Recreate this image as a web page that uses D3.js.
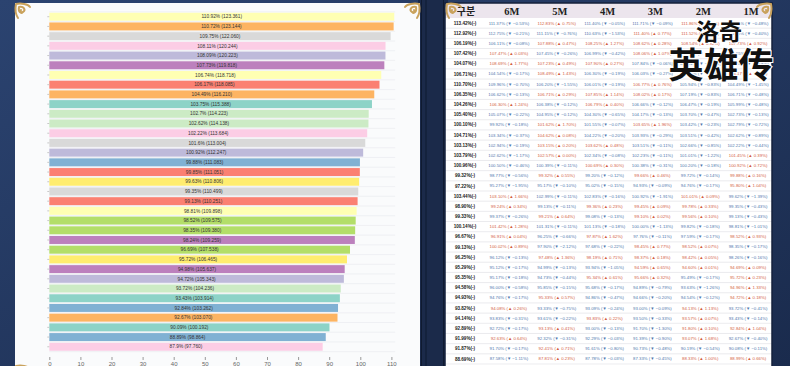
<!DOCTYPE html>
<html>
<head>
<meta charset="utf-8">
<script src="https://cdn.jsdelivr.net/npm/d3@7"></script>
<style>
  html, body { margin: 0; padding: 0; background: #1d2f52; overflow: hidden; }
</style>
</head>
<body>
<div id="chart"></div>
<script>
    // bar chart values, top to bottom
    var barPct = [110.92, 110.72, 109.75, 108.11, 108.09, 107.73, 106.74, 106.17, 104.49, 103.75,
                  102.7, 102.62, 102.22, 101.6, 100.92, 99.88, 99.85, 99.63, 99.35, 99.13,
                  98.81, 98.52, 98.35, 98.24, 96.69, 95.72, 94.98, 94.72, 93.72, 93.43,
                  92.84, 92.67, 90.09, 88.89, 87.9];
    var barScore = [123.361, 123.144, 122.060, 120.244, 120.223, 119.818, 118.718, 118.085, 116.210, 115.388,
                    114.223, 114.138, 113.684, 113.004, 112.247, 111.083, 111.051, 110.806, 110.499, 110.251,
                    109.898, 109.575, 109.380, 109.259, 107.538, 106.465, 105.637, 105.343, 104.236, 103.914,
                    103.262, 103.070, 100.192, 98.864, 97.760];
    // hidden category of every bar (index into the colour scheme)
    var barGroup = [1, 5, 8, 7, 2, 9, 1, 3, 5, 0,
                    10, 10, 7, 8, 2, 4, 3, 11, 8, 3,
                    1, 6, 6, 9, 6, 11, 9, 2, 10, 0,
                    4, 5, 0, 4, 7];
    var xTicks = [0, 10, 20, 30, 40, 50, 60, 70, 80, 90, 100, 110];

    // table values
    var headFirst = "구분";
    var colNames = ["6M", "5M", "4M", "3M", "2M", "1M"];
    var baseRate = [113.42, 112.92, 106.19, 107.42, 104.07, 106.71, 110.70, 106.35, 104.26, 105.40,
                    100.10, 104.71, 103.13, 103.79, 100.96, 99.32, 97.22, 103.44, 98.90, 99.33,
                    100.14, 96.67, 99.13, 96.25, 95.29, 95.35, 94.58, 94.93, 93.82, 94.14,
                    92.89, 91.99, 91.87, 88.69];
    var rowRate = [
        [111.37, 112.83, 111.40, 111.71, 111.86, 111.32],
        [112.75, 111.15, 110.63, 111.40, 111.52, 111.12],
        [106.11, 107.88, 108.25, 108.62, 108.54, 107.73],
        [107.47, 107.45, 106.99, 108.06, 107.82, 107.65],
        [108.69, 107.23, 107.90, 107.84, 106.92, 106.74],
        [104.54, 108.49, 106.30, 106.03, 105.88, 106.17],
        [109.96, 106.20, 106.01, 106.77, 105.94, 104.49],
        [106.62, 106.71, 107.85, 108.02, 107.19, 106.71],
        [106.30, 106.38, 106.79, 106.66, 106.47, 105.99],
        [105.07, 104.95, 104.30, 104.17, 103.70, 102.73],
        [99.92, 101.62, 101.55, 103.65, 103.42, 102.79],
        [103.34, 104.62, 104.22, 103.93, 103.51, 102.62],
        [102.94, 103.15, 103.62, 103.51, 102.66, 102.22],
        [102.62, 102.57, 102.34, 102.23, 101.01, 101.45],
        [100.50, 100.39, 100.69, 100.38, 100.20, 100.92],
        [98.77, 99.32, 99.20, 99.66, 99.72, 99.88],
        [95.27, 95.17, 95.02, 94.93, 94.76, 95.80],
        [103.10, 102.99, 102.83, 100.92, 101.01, 99.62],
        [99.24, 99.13, 99.36, 99.45, 99.78, 99.35],
        [99.37, 99.21, 99.08, 99.10, 99.56, 99.13],
        [101.42, 101.31, 101.13, 100.00, 99.82, 98.81],
        [96.91, 96.25, 97.87, 97.76, 97.59, 98.52],
        [100.02, 97.90, 97.68, 98.45, 98.52, 98.35],
        [96.12, 97.48, 98.19, 98.37, 98.42, 98.26],
        [95.12, 94.99, 93.94, 94.59, 94.60, 94.69],
        [95.17, 94.73, 95.34, 95.66, 95.49, 95.72],
        [96.00, 95.85, 95.68, 94.89, 93.63, 94.96],
        [94.76, 95.33, 94.86, 94.66, 94.54, 94.72],
        [94.08, 93.33, 93.09, 93.00, 94.13, 93.72],
        [93.83, 93.61, 93.83, 93.50, 93.57, 93.43],
        [92.72, 93.13, 93.00, 91.70, 91.80, 92.84],
        [92.63, 92.32, 92.29, 91.39, 93.07, 92.67],
        [91.70, 92.41, 91.61, 90.73, 90.19, 90.08],
        [87.58, 87.81, 87.78, 87.33, 88.33, 88.99]
    ];
    var rowDelta = [
        [-0.53, 0.75, -0.05, -0.09, 0.15, -0.48],
        [-0.21, -0.76, -1.53, 0.77, 0.12, -0.40],
        [-0.08, 0.47, 1.27, 0.28, 0.32, 0.92],
        [0.03, -0.26, -0.42, 1.07, -0.24, -0.17],
        [1.77, 0.49, 0.27, -0.06, -0.92, -0.18],
        [-0.17, 1.43, -0.19, -0.27, -0.15, 0.29],
        [-0.70, -1.55, -0.19, 0.76, -0.83, -1.45],
        [-0.13, 0.29, 1.14, 0.17, -0.83, -0.48],
        [1.24, -0.12, 0.40, -0.12, -0.19, -0.48],
        [-0.22, -0.12, -0.65, -0.13, -0.47, -0.13],
        [-0.18, 1.70, -0.07, 1.96, -0.23, -0.72],
        [-0.37, 0.08, -0.20, -0.29, -0.42, -0.89],
        [-0.19, 0.20, 0.48, -0.11, -0.85, -0.44],
        [-1.17, 0.00, -0.08, -0.11, -1.22, 0.39],
        [-0.46, -0.11, 0.30, -0.31, -0.18, 0.72],
        [-0.56, 0.55, -0.12, 0.46, -0.14, 0.16],
        [-1.95, -0.10, -0.15, -0.09, -0.17, 1.04],
        [1.66, -0.11, -0.16, -1.91, 0.09, -1.39],
        [0.34, -0.11, 0.23, 0.09, 0.33, -0.43],
        [-0.26, 0.64, -0.13, 0.02, 0.10, -0.43],
        [1.28, -0.11, -0.18, -1.13, -0.18, -1.01],
        [0.04, -0.66, 1.62, -0.11, -0.17, 0.93],
        [0.89, -2.12, -0.22, 0.77, 0.07, -0.17],
        [-0.13, 1.36, 0.71, 0.18, 0.05, -0.16],
        [-0.17, -0.13, -1.05, 0.65, 0.01, 0.09],
        [-0.18, -0.44, 0.61, 0.32, -0.17, 0.23],
        [-0.58, -0.15, -0.17, -0.79, -1.26, 1.33],
        [-0.17, 0.57, -0.47, -0.20, -0.12, 0.18],
        [0.26, -0.75, -0.24, -0.09, 1.13, -0.41],
        [-0.31, -0.22, 0.22, -0.33, 0.07, -0.14],
        [-0.17, 0.41, -0.13, -1.30, 0.10, 1.04],
        [0.64, -0.31, -0.03, -0.90, 1.68, -0.40],
        [-0.17, 0.71, -0.80, -0.48, -0.54, -0.11],
        [-1.11, 0.23, -0.03, -0.45, 1.00, 0.66]
    ];
    var titleTop = "洛奇",
        titleBottom = "英雄传";

    var w = 790,
        h = 366,
        gold = "#c9a25c",
        navy = "#1b2a4a";

    var svg = d3.select("#chart")
        .append("svg")
        .attr("width", w)
        .attr("height", h)
        .style("display", "block");

    // backdrop pieces
    var bgGrad = svg.append("defs").append("linearGradient")
        .attr("id", "edge").attr("x1", 0).attr("x2", 1).attr("y1", 0).attr("y2", 1);
    bgGrad.append("stop").attr("offset", "0%").attr("stop-color", "#2b4370");
    bgGrad.append("stop").attr("offset", "100%").attr("stop-color", "#1a2b4d");

    svg.append("rect").attr("width", w).attr("height", h).attr("fill", "url(#edge)");
    svg.append("rect").attr("x", 418).attr("y", 0).attr("width", 30).attr("height", h).attr("fill", navy);
    [421.5, 426, 443.5].forEach(function(lx) {
        svg.append("line").attr("x1", lx).attr("x2", lx).attr("y1", 0).attr("y2", h)
            .attr("stroke", "#0f1a30").attr("stroke-width", 1);
    });

    // ---------- left panel, the bar chart ----------
    svg.append("rect").attr("x", 15).attr("y", 3).attr("width", 405).attr("height", h)
        .attr("fill", "#fafbfc");

    var x = d3.scaleLinear().domain([0, 110]).range([49.3, 391.4]);
    var y = d3.scaleBand().domain(d3.range(barPct.length)).range([11, 352.5]).padding(0.18);
    var color = d3.scaleOrdinal().domain(d3.range(12)).range(d3.schemeSet3);

    var chart = svg.append("g");
    var gap = y.step() * y.paddingInner() / 2;

    // faint row lines between bars
    chart.selectAll("line.row")
        .data(d3.range(barPct.length + 1))
        .enter().append("line")
        .attr("class", "row")
        .attr("x1", x(0)).attr("x2", x(111.2))
        .attr("y1", function(i) { return i < barPct.length ? y(i) - gap : y(i - 1) + y.bandwidth() + gap; })
        .attr("y2", function(i) { return i < barPct.length ? y(i) - gap : y(i - 1) + y.bandwidth() + gap; })
        .attr("stroke", "#eceef1").attr("stroke-width", 0.8);

    chart.selectAll("rect.bar")
        .data(barPct)
        .enter().append("rect")
        .attr("class", "bar")
        .attr("x", x(0))
        .attr("y", function(d, i) { return y(i); })
        .attr("width", function(d) { return x(d) - x(0); })
        .attr("height", y.bandwidth())
        .attr("fill", function(d, i) { return color(barGroup[i]); });

    var fmtScore = d3.format(".3f");
    chart.selectAll("text.lbl")
        .data(barPct)
        .enter().append("text")
        .attr("class", "lbl")
        .attr("x", function(d) { return (x(0) + x(d)) / 2; })
        .attr("y", function(d, i) { return y(i) + y.bandwidth() / 2; })
        .attr("dy", "0.35em")
        .attr("text-anchor", "middle")
        .style("font", "4.8px 'Liberation Sans', Arial, sans-serif")
        .attr("fill", "#333")
        .text(function(d, i) { return d + "% (" + fmtScore(barScore[i]) + ")"; });

    // little ticks on the category side
    var yAxis = chart.append("g")
        .attr("transform", "translate(" + x(0) + ",0)")
        .call(d3.axisLeft(y).tickSize(2).tickFormat(""));
    yAxis.select(".domain").remove();
    yAxis.selectAll("line").attr("stroke", "#c8c8c8");

    // the axis labels sit at the very bottom edge, half shown like the screenshot
    var xAxis = chart.append("g")
        .attr("transform", "translate(0,357)")
        .call(d3.axisBottom(x).tickValues(xTicks).tickSize(3).tickPadding(1.5));
    xAxis.select(".domain").remove();
    xAxis.selectAll("line").attr("stroke", "#999");
    xAxis.selectAll("text").attr("fill", "#666")
        .style("font", "6px 'Liberation Sans', Arial, sans-serif");

    // ---------- right panel, the table ----------
    var tLeft = 445, tRight = 772, tTop = 3, headH = 15, tBottom = 364;
    var rowH = (tBottom - tTop - headH) / baseRate.length;

    var cols = d3.scaleBand()
        .domain(d3.range(colNames.length))
        .range([485, tRight]);

    var table = svg.append("g");
    table.append("rect").attr("x", tLeft).attr("y", tTop)
        .attr("width", tRight - tLeft).attr("height", h - tTop)
        .attr("fill", "#fff");
    table.append("rect").attr("x", tLeft).attr("y", tTop)
        .attr("width", tRight - tLeft).attr("height", headH)
        .attr("fill", "#ece5ed");

    table.append("text")
        .attr("x", 466).attr("y", tTop + headH / 2 + 1).attr("dy", "0.35em")
        .attr("text-anchor", "middle")
        .style("font", "bold 10px 'Noto Sans CJK KR', sans-serif")
        .attr("fill", "#222")
        .text(headFirst);
    table.selectAll("text.head")
        .data(colNames)
        .enter().append("text")
        .attr("class", "head")
        .attr("x", function(d, i) { return cols(i) + cols.bandwidth() / 2 + 3; })
        .attr("y", tTop + headH / 2 + 1).attr("dy", "0.35em")
        .attr("text-anchor", "middle")
        .style("font", "bold 10.5px 'Liberation Serif', 'DejaVu Serif', serif")
        .attr("fill", "#222")
        .text(function(d) { return d; });

    var rows = table.selectAll("g.trow")
        .data(baseRate)
        .enter().append("g")
        .attr("class", "trow")
        .attr("transform", function(d, i) { return "translate(0," + (tTop + headH + i * rowH) + ")"; });

    rows.append("line")
        .attr("x1", tLeft).attr("x2", tRight)
        .attr("y1", rowH).attr("y2", rowH)
        .attr("stroke", "#e2e2e6").attr("stroke-width", 0.7);

    var fmt2 = d3.format(".2f");
    rows.append("text")
        .attr("x", 465).attr("y", rowH / 2).attr("dy", "0.35em")
        .attr("text-anchor", "middle")
        .style("font", "bold 4.6px 'Liberation Sans', Arial, sans-serif")
        .attr("fill", "#222")
        .text(function(d) { return fmt2(d) + "%(-)"; });

    rows.each(function(d, r) {
        d3.select(this).selectAll("text.cell")
            .data(rowRate[r])
            .enter().append("text")
            .attr("class", "cell")
            .attr("x", function(v, c) { return cols(c) + cols.bandwidth() / 2; })
            .attr("y", rowH / 2).attr("dy", "0.35em")
            .attr("text-anchor", "middle")
            .style("font", "4.3px 'Liberation Sans', Arial, sans-serif")
            .attr("fill", function(v, c) { return rowDelta[r][c] < 0 ? "#4f77ad" : "#d3603f"; })
            .text(function(v, c) {
                var dv = rowDelta[r][c];
                return fmt2(v) + "% (" + (dv < 0 ? "▼ " : "▲ ") + fmt2(dv) + "%)";
            });
    });

    table.append("rect").attr("x", tLeft).attr("y", tTop)
        .attr("width", tRight - tLeft).attr("height", h)
        .attr("fill", "none").attr("stroke", "#14213b").attr("stroke-width", 1.5);

    // big overlay caption, laid over the table on purpose
    var cap = svg.append("g")
        .style("font-family", "'Noto Sans CJK SC', sans-serif")
        .style("font-weight", "bold")
        .attr("text-anchor", "middle")
        .attr("fill", "#111")
        .attr("stroke", "#fff")
        .attr("stroke-width", 2)
        .style("paint-order", "stroke");
    cap.append("text").attr("x", 719).attr("y", 40).style("font-size", "23px").text(titleTop);
    cap.append("text").attr("x", 721).attr("y", 78).style("font-size", "35px").text(titleBottom);

    // gold corner swirls
    function ornament(px, py, flip) {
        svg.append("path")
            .attr("transform", "translate(" + px + "," + py + ") scale(" + flip + ",1)")
            .attr("d", "M0,0 C5,-1 12,0 14,3 M0,0 C-1,5 0,11 2,14 M3,3 C8,2 10,6 7,8 C5,9 4,7 5,6 M3,3 C2,8 5,10 7,8")
            .attr("fill", "none")
            .attr("stroke", gold)
            .attr("stroke-width", 2)
            .attr("stroke-linecap", "round");
    }
    ornament(16, 4, 1);
    ornament(419, 4, -1);
    ornament(447, 4, 1);
    ornament(771, 4, -1);
    ornament(16, 366, 1);
</script>
</body>
</html>
